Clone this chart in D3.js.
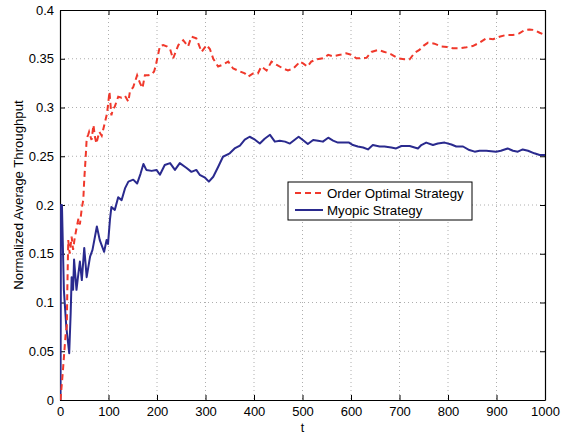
<!DOCTYPE html>
<html>
<head>
<meta charset="utf-8">
<script src="https://cdn.jsdelivr.net/npm/d3@7"></script>
<style>
  body { margin: 0; background: #fff; }
  text { font-family: "Liberation Sans", Arial, Helvetica, sans-serif; }
</style>
</head>
<body>
<div id="chart"></div>
<script>
// series values
const optimalT = [1, 6, 12, 14, 15, 16, 17, 20, 24, 27, 30, 34, 38, 41, 45, 48, 50, 53, 55, 58, 60, 65, 69, 72, 75, 81, 86, 93, 97, 102, 106, 109, 113, 120, 127, 134, 141, 144, 151, 159, 165, 170, 175, 182, 189, 194, 197, 200, 206, 213, 221, 227, 233, 244, 254, 264, 271, 281, 292, 302, 309, 316, 326, 336, 347, 357, 371, 381, 388, 398, 408, 415, 426, 436, 446, 460, 470, 481, 491, 494, 502, 510, 518, 529, 542, 553, 563, 577, 590, 601, 611, 621, 632, 642, 656, 669, 683, 697, 710, 721, 731, 741, 750, 759, 772, 786, 798, 810, 824, 838, 851, 865, 879, 893, 906, 920, 934, 947, 958, 968, 978, 989, 1000];
const optimalV = [0, 0.03, 0.07, 0.075, 0.11, 0.137, 0.164, 0.15, 0.1675, 0.154, 0.165, 0.176, 0.186, 0.18, 0.197, 0.205, 0.226, 0.2495, 0.268, 0.272, 0.275, 0.2667, 0.282, 0.27, 0.263, 0.275, 0.271, 0.2855, 0.294, 0.316, 0.292, 0.298, 0.301, 0.311, 0.31, 0.312, 0.306, 0.316, 0.321, 0.333, 0.325, 0.32, 0.333, 0.333, 0.334, 0.337, 0.342, 0.349, 0.363, 0.364, 0.3625, 0.36, 0.35, 0.364, 0.369, 0.3625, 0.3726, 0.371, 0.357, 0.364, 0.36, 0.35, 0.342, 0.344, 0.347, 0.34, 0.337, 0.335, 0.3316, 0.335, 0.335, 0.342, 0.338, 0.347, 0.344, 0.34, 0.338, 0.34, 0.345, 0.347, 0.345, 0.342, 0.347, 0.3494, 0.3504, 0.354, 0.3525, 0.354, 0.3556, 0.354, 0.3504, 0.3504, 0.351, 0.357, 0.359, 0.357, 0.3545, 0.3504, 0.3494, 0.3494, 0.356, 0.359, 0.3635, 0.3665, 0.3655, 0.3625, 0.362, 0.3607, 0.3607, 0.3617, 0.363, 0.3665, 0.371, 0.37, 0.3726, 0.3744, 0.3744, 0.376, 0.3795, 0.38, 0.3795, 0.3767, 0.3744];

const myopicT = [1, 2, 4, 8, 13, 19, 22, 24, 27, 29, 34, 38, 41, 45, 50, 55, 62, 67, 76, 82, 91, 96, 99, 103, 106, 113, 120, 127, 134, 141, 151, 159, 166, 172, 178, 189, 199, 206, 216, 227, 237, 247, 261, 271, 281, 288, 299, 307, 316, 326, 336, 350, 360, 371, 381, 391, 402, 412, 422, 433, 443, 453, 464, 474, 484, 492, 500, 511, 522, 532, 542, 553, 563, 573, 587, 596, 604, 614, 625, 635, 645, 659, 669, 683, 693, 704, 721, 738, 745, 755, 769, 779, 793, 807, 817, 831, 844, 855, 865, 879, 889, 899, 909, 923, 934, 944, 954, 965, 978, 989, 1000];
const myopicV = [0, 0.2, 0.2, 0.113, 0.075, 0.048, 0.089, 0.126, 0.113, 0.144, 0.113, 0.13, 0.142, 0.123, 0.156, 0.126, 0.147, 0.154, 0.178, 0.164, 0.152, 0.164, 0.16, 0.185, 0.198, 0.195, 0.208, 0.205, 0.217, 0.224, 0.226, 0.222, 0.232, 0.242, 0.236, 0.235, 0.236, 0.231, 0.241, 0.243, 0.236, 0.243, 0.238, 0.234, 0.236, 0.231, 0.228, 0.224, 0.229, 0.239, 0.2495, 0.253, 0.258, 0.261, 0.267, 0.27, 0.267, 0.263, 0.268, 0.272, 0.265, 0.266, 0.265, 0.263, 0.267, 0.27, 0.267, 0.2625, 0.2667, 0.266, 0.265, 0.269, 0.266, 0.264, 0.264, 0.264, 0.2615, 0.26, 0.259, 0.257, 0.2615, 0.26, 0.26, 0.259, 0.258, 0.2605, 0.2605, 0.258, 0.2615, 0.264, 0.2615, 0.263, 0.264, 0.262, 0.26, 0.26, 0.2564, 0.2547, 0.2556, 0.2556, 0.2552, 0.2547, 0.2556, 0.258, 0.2556, 0.2547, 0.257, 0.2556, 0.253, 0.2513, 0.2513];

const xTicks = [0, 100, 200, 300, 400, 500, 600, 700, 800, 900, 1000];
const yTicks = [0, 0.05, 0.1, 0.15, 0.2, 0.25, 0.3, 0.35, 0.4];
const seriesNames = ["Order Optimal Strategy", "Myopic Strategy"];

let margin = { top: 10, right: 37, bottom: 34, left: 60 };
let width = 582 - margin.left - margin.right;
let height = 434 - margin.top - margin.bottom;

let svg = d3.select("#chart")
	.append("svg")
	.attr("width", 582)
	.attr("height", 434);

let g = svg.append("g")
	.attr("transform", "translate(" + margin.left + "," + margin.top + ")");

let xScale = d3.scaleLinear().domain([0, 1000]).range([0, width]);
let yScale = d3.scaleLinear().domain([0, 0.4]).range([height, 0]);

// dotted grid
g.append("g").selectAll("line")
	.data(xTicks.slice(1, -1))
	.enter().append("line")
	.attr("x1", d => xScale(d)).attr("x2", d => xScale(d))
	.attr("y1", 0).attr("y2", height)
	.attr("stroke", "#999").attr("stroke-width", 0.8)
	.attr("stroke-dasharray", "1,3");
g.append("g").selectAll("line")
	.data(yTicks.slice(1, -1))
	.enter().append("line")
	.attr("y1", d => yScale(d)).attr("y2", d => yScale(d))
	.attr("x1", 0).attr("x2", width)
	.attr("stroke", "#999").attr("stroke-width", 0.8)
	.attr("stroke-dasharray", "1,3");

let fmt = d => d === 0 ? "0" : String(+d.toFixed(2));

// axes, ticks pointing inward like matlab
g.append("g")
	.attr("transform", "translate(0," + height + ")")
	.call(d3.axisBottom(xScale).tickValues(xTicks).tickFormat(d3.format("d")).tickSize(-5).tickPadding(7).tickSizeOuter(0));
g.append("g")
	.call(d3.axisLeft(yScale).tickValues(yTicks).tickFormat(fmt).tickSize(-5).tickPadding(6).tickSizeOuter(0));
g.append("g")
	.call(d3.axisTop(xScale).tickValues(xTicks).tickSize(-5).tickFormat("").tickSizeOuter(0));
g.append("g")
	.attr("transform", "translate(" + width + ",0)")
	.call(d3.axisRight(yScale).tickValues(yTicks).tickSize(-5).tickFormat("").tickSizeOuter(0));

g.selectAll(".domain").attr("stroke", "#000").attr("stroke-width", 1.2);
g.selectAll(".tick line").attr("stroke", "#000");
g.selectAll(".tick text").style("font-size", "13px").attr("fill", "#000");

svg.append("clipPath").attr("id", "clip")
	.append("rect").attr("width", width).attr("height", height);

let line = d3.line()
	.x(d => xScale(d[0]))
	.y(d => yScale(d[1]));

let plot = g.append("g").attr("clip-path", "url(#clip)");

plot.append("path")
	.datum(myopicT.map((t, i) => [t, myopicV[i]]))
	.attr("fill", "none")
	.attr("stroke", "#2a2a8e")
	.attr("stroke-width", 2)
	.attr("stroke-linejoin", "round")
	.attr("d", line);

plot.append("path")
	.datum(optimalT.map((t, i) => [t, optimalV[i]]))
	.attr("fill", "none")
	.attr("stroke", "#f0382b")
	.attr("stroke-width", 2)
	.attr("stroke-dasharray", "6,4")
	.attr("d", line);

// axis labels
g.append("text")
	.attr("x", width / 2)
	.attr("y", height + 32)
	.attr("text-anchor", "middle")
	.style("font-size", "12.5px")
	.text("t");

svg.append("text")
	.attr("transform", "translate(23,195) rotate(-90)")
	.attr("text-anchor", "middle")
	.style("font-size", "13.2px")
	.text("Normalized Average Throughput");

// legend
let legend = svg.append("g").attr("transform", "translate(288,182)");
legend.append("rect")
	.attr("width", 184).attr("height", 38)
	.attr("fill", "#fff").attr("stroke", "#000").attr("stroke-width", 1);
let legendColors = ["#f0382b", "#2a2a8e"];
let legendDash = ["6,4", null];
seriesNames.forEach(function (name, i) {
	let y = 11 + i * 17;
	legend.append("line")
		.attr("x1", 7).attr("x2", 35)
		.attr("y1", y).attr("y2", y)
		.attr("stroke", legendColors[i])
		.attr("stroke-width", 2)
		.attr("stroke-dasharray", legendDash[i]);
	legend.append("text")
		.attr("x", 39).attr("y", y + 4.5)
		.style("font-size", "13.3px")
		.text(name);
});
</script>
</body>
</html>
